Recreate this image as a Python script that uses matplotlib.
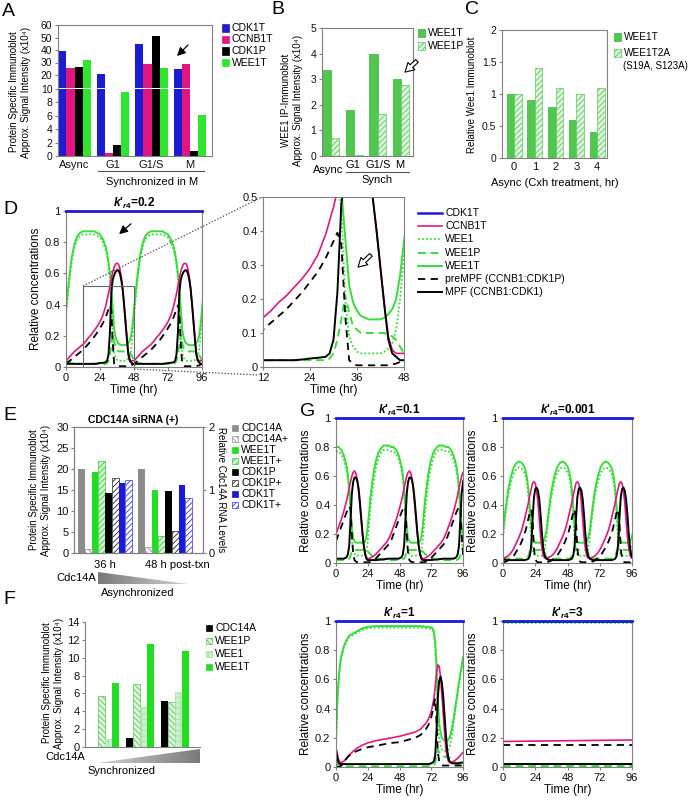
import numpy as np
import matplotlib
matplotlib.use('Agg')
import matplotlib.pyplot as plt
from matplotlib.patches import Rectangle, Polygon, FancyArrowPatch
from matplotlib.lines import Line2D

plt.rcParams['font.family'] = ['Liberation Sans', 'DejaVu Sans']
plt.rcParams['font.sans-serif'] = ['Liberation Sans', 'DejaVu Sans']
plt.rcParams['mathtext.fontset'] = 'custom'
plt.rcParams['mathtext.it'] = 'sans:italic:bold'
plt.rcParams['mathtext.rm'] = 'sans:bold'
plt.rcParams['mathtext.bf'] = 'sans:bold'
plt.rcParams['hatch.linewidth'] = 0.6

# ================= DATA =================
# Panel A
A_groups = ['Async', 'G1', 'G1/S', 'M']
A_cdk1t = [39.5, 20.8, 44.5, 24.5]
A_ccnb1t = [25.5, 0.5, 28.5, 28.5]
A_cdk1p = [26.5, 1.6, 51.0, 0.7]
A_wee1t = [32.0, 9.6, 25.5, 6.1]
# Panel B
B_groups = ['Async', 'G1', 'G1/S', 'M']
B_wee1t = [3.35, 1.78, 4.0, 3.0]
B_wee1p = [0.72, 0.05, 1.63, 2.76]
# Panel C
C_hours = ['0', '1', '2', '3', '4']
C_wee1t = [1.0, 0.9, 0.8, 0.6, 0.4]
C_wee1t2a = [1.0, 1.4, 1.1, 1.0, 1.1]
# Panel E
E_groups = ['36 h', '48 h post-txn']
E_cdc14a_rna = [1.33, 1.33]
E_cdc14a_rna_plus = [0.07, 0.10]
E_wee1t = [19.3, 15.1]
E_wee1t_plus = [21.8, 4.0]
E_cdk1p = [14.2, 14.7]
E_cdk1p_plus = [17.8, 5.3]
E_cdk1t = [16.6, 16.1]
E_cdk1t_plus = [17.5, 13.2]
# Panel F
F_cdc14a = [0.0, 1.0, 5.2]
F_wee1p = [5.7, 7.1, 5.0]
F_wee1 = [0.9, 4.5, 6.2]
F_wee1t = [7.2, 11.5, 10.8]

# Panel D (k'r4 = 0.2): one read-off cycle, period 48 h
D_period = 48.0
D_t = [0, 2, 4, 6, 8, 10, 12, 14, 16, 18, 20, 22, 24, 26, 28, 29, 30, 31, 32, 33, 34, 35, 36, 37, 38,
       39, 40, 41, 42, 43, 44, 45, 46, 47, 48]
D_wee1t = [0.37, 0.55, 0.70, 0.79, 0.84, 0.86, 0.87, 0.87, 0.87, 0.87, 0.87, 0.86, 0.85, 0.82, 0.77,
           0.73, 0.67, 0.60, 0.52, 0.38, 0.24, 0.19, 0.165, 0.15, 0.145,
           0.14, 0.14, 0.14, 0.14, 0.145, 0.155, 0.17, 0.20, 0.27, 0.37]
D_wee1 = [0.33, 0.52, 0.67, 0.77, 0.82, 0.84, 0.85, 0.85, 0.85, 0.85, 0.85, 0.84, 0.83, 0.80, 0.75,
          0.71, 0.65, 0.57, 0.46, 0.20, 0.09, 0.06, 0.045, 0.04, 0.04,
          0.04, 0.04, 0.04, 0.04, 0.045, 0.055, 0.07, 0.11, 0.20, 0.33]
D_wee1p = [0.04, 0.03, 0.025, 0.02, 0.02, 0.02, 0.02, 0.02, 0.02, 0.02, 0.02, 0.02, 0.02, 0.02, 0.02,
           0.025, 0.04, 0.08, 0.14, 0.21, 0.16, 0.12, 0.11, 0.10, 0.10,
           0.10, 0.10, 0.10, 0.10, 0.10, 0.095, 0.09, 0.08, 0.06, 0.04]
D_ccnb1t = [0.04, 0.06, 0.08, 0.10, 0.115, 0.13, 0.145, 0.165, 0.19, 0.21, 0.235, 0.26, 0.29, 0.33, 0.39,
            0.43, 0.47, 0.52, 0.57, 0.61, 0.64, 0.66, 0.665, 0.66, 0.63,
            0.58, 0.50, 0.40, 0.29, 0.18, 0.09, 0.05, 0.04, 0.04, 0.04]
D_prempf = [0.02, 0.035, 0.05, 0.065, 0.08, 0.095, 0.11, 0.13, 0.15, 0.17, 0.195, 0.22, 0.25, 0.28, 0.32,
            0.345, 0.37, 0.395, 0.36, 0.15, 0.02, 0.01, 0.005, 0.005, 0.005,
            0.005, 0.005, 0.005, 0.005, 0.005, 0.005, 0.008, 0.01, 0.015, 0.02]
D_mpf = [0.02, 0.02, 0.02, 0.02, 0.02, 0.02, 0.02, 0.02, 0.02, 0.02, 0.02, 0.022, 0.025, 0.027, 0.03,
         0.04, 0.08, 0.22, 0.48, 0.56, 0.59, 0.61, 0.62, 0.62, 0.60,
         0.56, 0.50, 0.40, 0.29, 0.18, 0.08, 0.04, 0.03, 0.02, 0.02]

# Panel G1 (k'r4 = 0.1): one cycle, period 41.5 h
G1_period = 41.5
G1_t = [0, 2, 4, 6, 8, 9, 10, 11, 12, 13, 14, 15, 16, 17, 18, 19, 20, 21, 22, 23,
        24, 25, 26, 28, 30, 32, 34, 36, 38, 40, 41.5]
G1_wee1t = [0.80, 0.80, 0.78, 0.74, 0.67, 0.61, 0.52, 0.38, 0.24, 0.17,
            0.15, 0.14, 0.14, 0.14, 0.14, 0.14, 0.14, 0.14, 0.15, 0.18,
            0.25, 0.35, 0.45, 0.60, 0.70, 0.76, 0.79, 0.81, 0.81, 0.81, 0.80]
G1_wee1 = [0.77, 0.77, 0.75, 0.71, 0.64, 0.58, 0.48, 0.32, 0.15, 0.08,
           0.06, 0.05, 0.05, 0.05, 0.05, 0.05, 0.05, 0.05, 0.055, 0.08,
           0.15, 0.26, 0.37, 0.53, 0.65, 0.72, 0.76, 0.78, 0.78, 0.78, 0.77]
G1_wee1p = [0.02, 0.02, 0.02, 0.02, 0.02, 0.025, 0.03, 0.05, 0.08, 0.09,
            0.09, 0.09, 0.09, 0.09, 0.09, 0.09, 0.09, 0.09, 0.09, 0.09,
            0.08, 0.07, 0.06, 0.045, 0.035, 0.03, 0.025, 0.02, 0.02, 0.02, 0.02]
G1_ccnb1t = [0.20, 0.25, 0.30, 0.36, 0.43, 0.47, 0.52, 0.56, 0.60, 0.625,
             0.635, 0.62, 0.58, 0.50, 0.40, 0.30, 0.20, 0.12, 0.07, 0.04,
             0.03, 0.03, 0.035, 0.045, 0.06, 0.08, 0.10, 0.12, 0.14, 0.17, 0.20]
G1_prempf = [0.15, 0.20, 0.25, 0.30, 0.35, 0.37, 0.39, 0.37, 0.20, 0.06,
             0.02, 0.01, 0.005, 0.005, 0.005, 0.005, 0.005, 0.005, 0.005, 0.005,
             0.005, 0.005, 0.008, 0.015, 0.03, 0.05, 0.07, 0.09, 0.11, 0.13, 0.15]
G1_mpf = [0.03, 0.03, 0.03, 0.03, 0.04, 0.06, 0.12, 0.30, 0.48, 0.56,
          0.59, 0.59, 0.57, 0.52, 0.43, 0.32, 0.21, 0.12, 0.06, 0.03,
          0.02, 0.02, 0.02, 0.02, 0.02, 0.022, 0.024, 0.026, 0.028, 0.03, 0.03]

# Panel G2 (k'r4 = 0.001): one cycle, period 32.3 h
G2_period = 32.3
G2_t = [0, 1, 2, 3, 4, 6, 8, 10, 12, 14, 16, 17, 18, 19, 20, 21, 22, 23, 24, 25,
        26, 27, 28, 29, 30, 31, 32.3]
G2_wee1t = [0.22, 0.30, 0.38, 0.45, 0.51, 0.60, 0.66, 0.69, 0.70, 0.69,
            0.66, 0.63, 0.58, 0.50, 0.38, 0.25, 0.18, 0.15, 0.14, 0.14,
            0.14, 0.14, 0.14, 0.14, 0.15, 0.17, 0.22]
G2_wee1 = [0.18, 0.26, 0.34, 0.41, 0.47, 0.56, 0.62, 0.65, 0.66, 0.65,
           0.62, 0.59, 0.54, 0.45, 0.30, 0.15, 0.08, 0.06, 0.05, 0.05,
           0.05, 0.05, 0.05, 0.05, 0.06, 0.09, 0.18]
G2_wee1p = [0.04, 0.035, 0.03, 0.03, 0.03, 0.03, 0.03, 0.03, 0.03, 0.03,
            0.03, 0.03, 0.035, 0.05, 0.08, 0.10, 0.10, 0.09, 0.09, 0.09,
            0.09, 0.09, 0.09, 0.09, 0.09, 0.07, 0.04]
G2_ccnb1t = [0.03, 0.035, 0.04, 0.045, 0.05, 0.07, 0.10, 0.14, 0.18, 0.23,
             0.30, 0.34, 0.38, 0.42, 0.47, 0.51, 0.55, 0.56, 0.55, 0.50,
             0.42, 0.30, 0.18, 0.10, 0.05, 0.035, 0.03]
G2_prempf = [0.005, 0.007, 0.01, 0.013, 0.02, 0.035, 0.05, 0.08, 0.11, 0.15,
             0.20, 0.23, 0.27, 0.31, 0.35, 0.37, 0.30, 0.10, 0.03, 0.01,
             0.005, 0.005, 0.005, 0.005, 0.005, 0.005, 0.005]
G2_mpf = [0.03, 0.025, 0.02, 0.02, 0.02, 0.02, 0.02, 0.02, 0.02, 0.02,
          0.02, 0.022, 0.025, 0.03, 0.05, 0.12, 0.30, 0.45, 0.51, 0.52,
          0.50, 0.44, 0.33, 0.20, 0.10, 0.05, 0.03]

# Panel G3 (k'r4 = 1)
G3_t = [0, 1, 2, 3, 4, 6, 8, 10, 12, 16, 20, 24, 30, 36, 42, 48, 54, 60, 64, 68,
        70, 72, 73, 74, 75, 76, 77, 78, 79, 80, 81, 82, 83, 84, 85, 86, 88, 90, 92, 94, 96]
G3_wee1t = [0.20, 0.45, 0.60, 0.70, 0.76, 0.83, 0.87, 0.90, 0.91, 0.93,
            0.95, 0.96, 0.965, 0.965, 0.965, 0.965, 0.965, 0.965, 0.965, 0.96,
            0.96, 0.955, 0.95, 0.93, 0.85, 0.70, 0.45, 0.30, 0.24, 0.20,
            0.19, 0.18, 0.18, 0.18, 0.19, 0.20, 0.28, 0.40, 0.52, 0.64, 0.75]
G3_wee1 = [0.16, 0.42, 0.58, 0.69, 0.75, 0.82, 0.86, 0.89, 0.90, 0.92,
           0.94, 0.95, 0.955, 0.955, 0.955, 0.955, 0.955, 0.955, 0.955, 0.95,
           0.95, 0.945, 0.94, 0.92, 0.82, 0.62, 0.33, 0.20, 0.15, 0.12,
           0.11, 0.11, 0.11, 0.11, 0.12, 0.14, 0.23, 0.37, 0.50, 0.62, 0.73]
G3_wee1p = [0.04, 0.02, 0.01, 0.008, 0.006, 0.005, 0.005, 0.005, 0.005, 0.005,
            0.005, 0.005, 0.005, 0.005, 0.005, 0.005, 0.005, 0.005, 0.005, 0.005,
            0.005, 0.006, 0.008, 0.01, 0.03, 0.08, 0.12, 0.10, 0.09, 0.08,
            0.08, 0.07, 0.07, 0.07, 0.07, 0.06, 0.045, 0.03, 0.02, 0.015, 0.01]
G3_ccnb1t = [0.13, 0.09, 0.05, 0.035, 0.03, 0.04, 0.06, 0.08, 0.10, 0.13,
             0.15, 0.165, 0.18, 0.19, 0.20, 0.21, 0.225, 0.24, 0.26, 0.30,
             0.33, 0.38, 0.42, 0.47, 0.55, 0.65, 0.70, 0.69, 0.62, 0.50,
             0.37, 0.24, 0.13, 0.07, 0.04, 0.03, 0.035, 0.045, 0.06, 0.08, 0.10]
G3_prempf = [0.0, 0.0, 0.0, 0.003, 0.01, 0.03, 0.06, 0.08, 0.095, 0.11,
             0.125, 0.135, 0.145, 0.155, 0.165, 0.17, 0.185, 0.20, 0.22, 0.26,
             0.29, 0.34, 0.38, 0.43, 0.47, 0.30, 0.10, 0.04, 0.02, 0.01,
             0.01, 0.01, 0.01, 0.01, 0.01, 0.01, 0.01, 0.01, 0.01, 0.01, 0.01]
G3_mpf = [0.12, 0.06, 0.03, 0.02, 0.02, 0.02, 0.02, 0.02, 0.02, 0.02,
          0.02, 0.02, 0.02, 0.02, 0.02, 0.02, 0.02, 0.02, 0.02, 0.02,
          0.02, 0.025, 0.03, 0.04, 0.08, 0.25, 0.48, 0.59, 0.62, 0.58,
          0.49, 0.36, 0.23, 0.12, 0.06, 0.035, 0.025, 0.025, 0.025, 0.03, 0.03]

# Panel G4 (k'r4 = 3): steady state
G4_t = [0, 96]
G4_wee1t = [0.99, 0.99]
G4_wee1 = [0.985, 0.985]
G4_wee1p = [0.005, 0.005]
G4_ccnb1t = [0.175, 0.185]
G4_prempf = [0.15, 0.15]
G4_mpf = [0.02, 0.02]

CDK1T_t = [0, 96]
CDK1T_level = [1.0, 1.0]

# ================= HELPERS =================
W, H = 690, 800
fig = plt.figure(figsize=(6.9, 8.0), dpi=100)


def box(l, t, r, b):
    return [l / W, 1 - b / H, (r - l) / W, (b - t) / H]


def ftext(x, y, s, **kw):
    kw.setdefault('fontsize', 7)
    kw.setdefault('va', 'center')
    return fig.text(x / W, 1 - y / H, s, **kw)


def fline(x1, y1, x2, y2, **kw):
    fig.add_artist(Line2D([x1 / W, x2 / W], [1 - y1 / H, 1 - y2 / H],
                          transform=fig.transFigure, **kw))


def farrow(x1, y1, x2, y2, hollow=False):
    if hollow:
        a = FancyArrowPatch((x1 / W, 1 - y1 / H), (x2 / W, 1 - y2 / H), transform=fig.transFigure,
                            arrowstyle='simple,head_length=0.7,head_width=0.8,tail_width=0.3',
                            mutation_scale=9, facecolor='white', edgecolor='k', lw=0.8)
    else:
        a = FancyArrowPatch((x1 / W, 1 - y1 / H), (x2 / W, 1 - y2 / H), transform=fig.transFigure,
                            arrowstyle='-|>,head_length=0.5,head_width=0.25',
                            mutation_scale=10, color='k', lw=0.9)
    fig.add_artist(a)


def leg_sq(x, y, s, size=7, fs=7.5, **kw):
    kw.setdefault('lw', 0.5)
    r = Rectangle((x / W, 1 - (y + size / 2) / H), size / W, size / H,
                  transform=fig.transFigure, **kw)
    fig.add_artist(r)
    ftext(x + size + 3, y, s, fontsize=fs, ha='left')


def leg_line(x1, x2, y, s, fs=7.5, **kw):
    fline(x1, y, x2, y, **kw)
    ftext(x2 + 3, y, s, fontsize=fs, ha='left')


SP = '#808080'


def style(ax, fs=7.5):
    for s in ax.spines.values():
        s.set_color(SP)
        s.set_linewidth(0.8)
    ax.tick_params(labelsize=fs, length=2.5, width=0.8, color=SP, pad=1.5, labelcolor='#111111')


def wedge(l, t, r, b, left_tall=True):
    ax = fig.add_axes(box(l, t, r, b))
    ax.set_axis_off()
    g = np.linspace(0.6, 0.3, 256) if left_tall else np.linspace(0.3, 0.6, 256)
    im = ax.imshow(g[None, :], cmap='Greys', vmin=0, vmax=1, aspect='auto', extent=(0, 1, 0, 1))
    verts = [(0, 0), (0, 1), (1, 0)] if left_tall else [(0, 0), (1, 1), (1, 0)]
    poly = Polygon(verts, transform=ax.transAxes, facecolor='none', edgecolor='none')
    ax.add_patch(poly)
    im.set_clip_path(poly)
    ax.set_xlim(0, 1)
    ax.set_ylim(0, 1)


def tile(tc, vals, period, tmax=96):
    ts, vs = [], []
    k = 0
    while k * period <= tmax:
        ts.extend(np.asarray(tc, float) + k * period)
        vs.extend(vals)
        k += 1
    return np.array(ts), np.array(vs)


BLUE = '#1A1AD6'
MAG = '#E2187F'
GRN = '#3ADC3A'
BGRN = '#2EE62E'
MGRN = '#50C850'

# ================= PANEL A =================
axAu = fig.add_axes(box(58, 25, 212, 87.5))
axAl = fig.add_axes(box(58, 89, 212, 156))
wA = 0.21
xA = np.arange(len(A_groups))
A_cols = ['#1C1CD2', '#E0157F', '#000000', BGRN]
for ax in (axAu, axAl):
    for j, (vals, c) in enumerate(zip([A_cdk1t, A_ccnb1t, A_cdk1p, A_wee1t], A_cols)):
        ax.bar(xA + (j - 1.5) * wA, vals, wA, color=c, linewidth=0)
    ax.set_xlim(-0.43, 3.57)
    style(ax)
axAu.set_ylim(10, 60)
axAu.set_yticks([20, 30, 40, 50, 60])
axAu.spines['bottom'].set_visible(False)
axAu.set_xticks([])
axAl.set_ylim(0, 10)
axAl.set_yticks(range(0, 11, 2))
axAl.spines['top'].set_visible(False)
axAl.set_xticks(xA)
axAl.set_xticklabels(A_groups)
axAl.tick_params(axis='x', length=0, pad=3, labelsize=8)
ftext(2, 12, 'A', fontsize=14)
ftext(14, 92, 'Protein Specific Immunoblot', rotation=90, ha='center')
ftext(26, 92, 'Approx. Signal Intensity (x10\u2074)', rotation=90, ha='center')
fline(98, 171, 204, 171, color='#555555', lw=0.8)
ftext(152, 182, 'Synchronized in M', ha='center', fontsize=8)
for k, (s, c) in enumerate(zip(['CDK1T', 'CCNB1T', 'CDK1P', 'WEE1T'], A_cols)):
    leg_sq(222, 28 + k * 11.5, s, facecolor=c, edgecolor=c)
farrow(190, 43, 175, 58)

# ================= PANEL B =================
axB = fig.add_axes(box(322, 28, 413, 156))
wB = 0.36
xB = np.arange(len(B_groups))
axB.bar(xB - wB / 2, B_wee1t, wB, color=MGRN, edgecolor='#3AAE3A', linewidth=0.5)
axB.bar(xB + wB / 2, B_wee1p, wB, facecolor='#DDF3DD', edgecolor='#5CC85C', hatch='//////', linewidth=0.5)
axB.set_xlim(-0.39, 3.52)
axB.set_ylim(0, 5)
axB.set_yticks(range(6))
axB.set_xticks([])
style(axB)
ftext(271, 10, 'B', fontsize=14)
ftext(286, 100, 'WEE1 IP-Immunoblot', rotation=90, ha='center')
ftext(298, 100, 'Approx. Signal Intensity (x10\u2074)', rotation=90, ha='center')
ftext(328, 170, B_groups[0], ha='center', fontsize=8)
for g, xc in zip(B_groups[1:], [353, 378, 400]):
    ftext(xc, 165, g, ha='center', fontsize=8)
fline(346, 172, 409, 172, color='#555555', lw=0.8)
ftext(377, 180, 'Synch', ha='center', fontsize=8)
leg_sq(418, 33, 'WEE1T', facecolor=MGRN, edgecolor='#3AAE3A')
leg_sq(418, 46, 'WEE1P', facecolor='#DDF3DD', edgecolor='#5CC85C', hatch='//////')
farrow(419, 59, 403, 74, hollow=True)

# ================= PANEL C =================
axC = fig.add_axes(box(502, 30, 607, 158))
wC = 0.36
xC = np.arange(len(C_hours))
axC.bar(xC - wC / 2, C_wee1t, wC, color=MGRN, edgecolor='#3AAE3A', linewidth=0.5)
axC.bar(xC + wC / 2, C_wee1t2a, wC, facecolor='#DDF3DD', edgecolor='#5CC85C', hatch='//////', linewidth=0.5)
axC.set_xlim(-0.58, 4.47)
axC.set_ylim(0, 2)
axC.set_yticks([0, 0.5, 1, 1.5, 2])
axC.set_yticklabels(['0', '0.5', '1', '1.5', '2'])
axC.set_xticks(xC)
axC.set_xticklabels(C_hours)
style(axC)
axC.tick_params(axis='x', length=0, pad=3, labelsize=8)
ftext(465, 10, 'C', fontsize=14)
ftext(472, 95, 'Relative Wee1 Immunoblot', rotation=90, ha='center')
ftext(555, 183, 'Async (Cxh treatment, hr)', ha='center', fontsize=8)
leg_sq(614, 37, 'WEE1T', facecolor=MGRN, edgecolor='#3AAE3A', fs=7.2)
leg_sq(614, 53, 'WEE1T2A', facecolor='#DDF3DD', edgecolor='#5CC85C', hatch='//////', fs=7.2)
ftext(623, 66, '(S19A, S123A)', ha='left', fontsize=7)


# ================= CURVE PANELS =================
def draw_curves(ax, t, wee1t, wee1, wee1p, ccnb1t, prempf, mpf):
    ax.plot(t, wee1t, color=GRN, lw=1.4)
    ax.plot(t, wee1, color=GRN, lw=1.3, ls=(0, (1, 1.2)))
    ax.plot(t, wee1p, color=GRN, lw=1.4, ls=(0, (4, 2.5)))
    ax.plot(t, ccnb1t, color=MAG, lw=1.2)
    ax.plot(t, prempf, color='k', lw=1.3, ls=(0, (4, 3)))
    ax.plot(t, mpf, color='k', lw=1.4)
    ax.plot(CDK1T_t, CDK1T_level, color=BLUE, lw=2.0, zorder=5)


def finish_curve_axes(ax, title=None, xlim=(0, 96), xt=(0, 24, 48, 72, 96), ylim=(0, 1),
                      yt=(0, 0.2, 0.4, 0.6, 0.8, 1), ytl=('0', '0.2', '0.4', '0.6', '0.8', '1')):
    ax.set_xlim(*xlim)
    ax.set_ylim(*ylim)
    ax.set_xticks(xt)
    ax.set_yticks(yt)
    ax.set_yticklabels(ytl)
    style(ax, fs=8)
    ax.tick_params(length=2, pad=2)
    ax.set_xlabel('Time (hr)', fontsize=8.5, labelpad=1)
    ax.set_ylabel('Relative concentrations', fontsize=8.5, labelpad=2)
    if title is not None:
        ax.set_title(title, fontsize=8.5, fontweight='bold', pad=3)


def k_title(v):
    return r"$k$" + "'" + r"$_{r4}$" + '=' + v


# ---- Panel D ----
Dd = [tile(D_t, s, D_period) for s in (D_wee1t, D_wee1, D_wee1p, D_ccnb1t, D_prempf, D_mpf)]
tD = Dd[0][0]
axD1 = fig.add_axes(box(66, 211, 202, 367))
draw_curves(axD1, tD, *[d[1] for d in Dd])
finish_curve_axes(axD1, k_title('0.2'))
ZOOM_T = (12, 48)
ZOOM_Y = 0.52
axD1.add_patch(Rectangle((ZOOM_T[0], 0), ZOOM_T[1] - ZOOM_T[0], ZOOM_Y, fill=False,
                         edgecolor='#666666', lw=0.8, zorder=6))

axD2 = fig.add_axes(box(263, 197, 404, 367))
draw_curves(axD2, tD, *[d[1] for d in Dd])
finish_curve_axes(axD2, None, xlim=ZOOM_T, xt=(12, 24, 36, 48), ylim=(0, 0.5),
                  yt=(0, 0.1, 0.2, 0.3, 0.4, 0.5), ytl=('0', '0.1', '0.2', '0.3', '0.4', '0.5'))
axD2.set_ylabel('')
fline(83, 286, 262, 197, color='#444444', lw=0.9, ls=(0, (1, 1.5)))
fline(134, 369, 258, 375, color='#444444', lw=0.9, ls=(0, (1, 1.5)))
ftext(3, 210, 'D', fontsize=14)
farrow(133, 222, 117, 236)
farrow(373, 253, 356, 269, hollow=True)

Dleg = [('CDK1T', dict(color=BLUE, lw=1.8)),
        ('CCNB1T', dict(color=MAG, lw=1.2)),
        ('WEE1', dict(color=GRN, lw=1.3, ls=(0, (1, 1.2)))),
        ('WEE1P', dict(color=GRN, lw=1.4, ls=(0, (4, 2.5)))),
        ('WEE1T', dict(color=GRN, lw=1.4)),
        ('preMPF (CCNB1:CDK1P)', dict(color='k', lw=1.3, ls=(0, (4, 3)))),
        ('MPF (CCNB1:CDK1)', dict(color='k', lw=1.4))]
for k, (s, kw) in enumerate(Dleg):
    leg_line(418, 442, 213 + k * 13.2, s, **kw)

# ---- Panel G ----
G1d = [tile(G1_t, s, G1_period) for s in (G1_wee1t, G1_wee1, G1_wee1p, G1_ccnb1t, G1_prempf, G1_mpf)]
G2d = [tile(G2_t, s, G2_period) for s in (G2_wee1t, G2_wee1, G2_wee1p, G2_ccnb1t, G2_prempf, G2_mpf)]
axG1 = fig.add_axes(box(336, 418, 463, 563))
draw_curves(axG1, G1d[0][0], *[d[1] for d in G1d])
finish_curve_axes(axG1, k_title('0.1'))
axG2 = fig.add_axes(box(503, 418, 632, 563))
draw_curves(axG2, G2d[0][0], *[d[1] for d in G2d])
finish_curve_axes(axG2, k_title('0.001'))
axG3 = fig.add_axes(box(336, 621, 463, 767))
draw_curves(axG3, np.array(G3_t), G3_wee1t, G3_wee1, G3_wee1p, G3_ccnb1t, G3_prempf, G3_mpf)
finish_curve_axes(axG3, k_title('1'))
axG4 = fig.add_axes(box(503, 621, 632, 767))
draw_curves(axG4, np.array(G4_t), G4_wee1t, G4_wee1, G4_wee1p, G4_ccnb1t, G4_prempf, G4_mpf)
finish_curve_axes(axG4, k_title('3'))
for ax in (axD1, axG1, axG2, axG3, axG4):
    ax.get_lines()[-1].set_clip_on(False)
ftext(300, 412, 'G', fontsize=14)

# ================= PANEL E =================
axE = fig.add_axes(box(74, 427, 203, 553))
axE2 = axE.twinx()
E_off = np.array([0.0, 8.9])
GRN_E = '#22DD22'
axE2.bar(E_off + 0, E_cdc14a_rna, 1.0, align='edge', color='#8C8C8C', linewidth=0)
axE2.bar(E_off + 1, E_cdc14a_rna_plus, 1.0, align='edge', facecolor='white', edgecolor='#8C8C8C',
         hatch='\\\\\\\\\\\\', linewidth=0.5)
E_specs = [(E_wee1t, dict(color=GRN_E, linewidth=0)),
           (E_wee1t_plus, dict(facecolor='#D4F6D4', edgecolor='#33CC33', hatch='//////', linewidth=0.5)),
           (E_cdk1p, dict(color='black', linewidth=0)),
           (E_cdk1p_plus, dict(facecolor='white', edgecolor='#222222', hatch='//////', linewidth=0.5)),
           (E_cdk1t, dict(color='#1A1AD8', linewidth=0)),
           (E_cdk1t_plus, dict(facecolor='white', edgecolor='#3333DD', hatch='//////', linewidth=0.5))]
for j, (vals, kw) in enumerate(E_specs):
    axE.bar(E_off + 2 + j, vals, 1.0, align='edge', **kw)
axE.set_xlim(-0.6, 18.5)
axE.set_ylim(0, 30)
axE.set_yticks(range(0, 31, 5))
axE.set_xticks([])
axE2.set_ylim(0, 2)
axE2.set_yticks([0, 1, 2])
style(axE, fs=8)
style(axE2, fs=8)
ftext(3, 415, 'E', fontsize=14)
ftext(133, 420, 'CDC14A siRNA (+)', ha='center', fontweight='bold', fontsize=7.5)
ftext(34, 490, 'Protein Specific Immunoblot', rotation=90, ha='center')
ftext(46, 490, 'Approx. Signal Intensity (x10\u2074)', rotation=90, ha='center')
ftext(221, 490, 'Relative Cdc14A RNA Levels', rotation=270, ha='center')
ftext(105, 565, E_groups[0], ha='center', fontsize=8)
ftext(177, 565, E_groups[1], ha='center', fontsize=8)
ftext(76, 578, 'Cdc14A', ha='center', fontsize=8)
wedge(98, 572, 188, 584, left_tall=True)
ftext(138, 593, 'Asynchronized', ha='center', fontsize=8)
E_leg = [('CDC14A', dict(facecolor='#8C8C8C', edgecolor='#8C8C8C')),
         ('CDC14A+', dict(facecolor='white', edgecolor='#8C8C8C', hatch='\\\\\\\\\\\\')),
         ('WEE1T', dict(facecolor=GRN_E, edgecolor=GRN_E)),
         ('WEE1T+', dict(facecolor='#D4F6D4', edgecolor='#33CC33', hatch='//////')),
         ('CDK1P', dict(facecolor='black', edgecolor='black')),
         ('CDK1P+', dict(facecolor='white', edgecolor='#222222', hatch='//////')),
         ('CDK1T', dict(facecolor='#1A1AD8', edgecolor='#1A1AD8')),
         ('CDK1T+', dict(facecolor='white', edgecolor='#3333DD', hatch='//////'))]
for k, (s, kw) in enumerate(E_leg):
    leg_sq(232, 428 + k * 11, s, size=6, **kw)

# ================= PANEL F =================
axF = fig.add_axes(box(85, 622, 200, 747))
F_off = np.arange(3) * 5.0
F_specs = [(F_cdc14a, dict(color='black', linewidth=0)),
           (F_wee1p, dict(facecolor='#E0F5E0', edgecolor='#55C855', hatch='\\\\\\\\\\\\', linewidth=0.5)),
           (F_wee1, dict(facecolor='#CDEFCD', edgecolor='#A8E2A8', hatch='+++', linewidth=0.5)),
           (F_wee1t, dict(color=GRN_E, linewidth=0))]
for j, (vals, kw) in enumerate(F_specs):
    axF.bar(F_off + j, vals, 1.0, align='edge', **kw)
axF.set_xlim(-0.86, 15.6)
axF.set_ylim(0, 14)
axF.set_yticks(range(0, 15, 2))
axF.set_xticks([])
style(axF, fs=8)
axF.spines['top'].set_visible(False)
axF.spines['right'].set_visible(False)
ftext(3, 600, 'F', fontsize=14)
ftext(47, 683, 'Protein Specific Immunoblot', rotation=90, ha='center')
ftext(59, 683, 'Approx. Signal Intensity (x10\u2074)', rotation=90, ha='center')
ftext(65, 757, 'Cdc14A', ha='center', fontsize=8)
wedge(97, 749, 200, 763, left_tall=False)
ftext(121, 771, 'Synchronized', ha='center', fontsize=8)
F_leg = [('CDC14A', dict(facecolor='black', edgecolor='black')),
         ('WEE1P', dict(facecolor='#E0F5E0', edgecolor='#55C855', hatch='\\\\\\\\\\\\')),
         ('WEE1', dict(facecolor='#CDEFCD', edgecolor='#A8E2A8', hatch='+++')),
         ('WEE1T', dict(facecolor=GRN_E, edgecolor=GRN_E))]
for k, (s, kw) in enumerate(F_leg):
    leg_sq(206, 628 + k * 13, s, size=6, **kw)

fig.savefig('out.png', dpi=100)
